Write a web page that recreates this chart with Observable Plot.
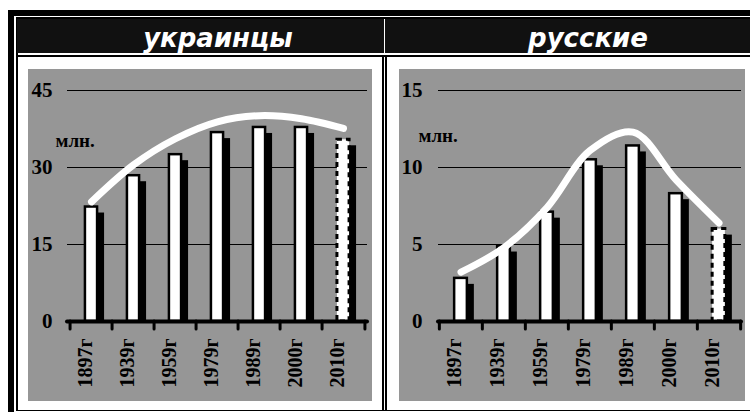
<!DOCTYPE html>
<html><head><meta charset="utf-8">
<script src="https://cdn.jsdelivr.net/npm/d3@7"></script>
<script src="https://cdn.jsdelivr.net/npm/@observablehq/plot@0.6"></script>
<style>
body{margin:0;background:#fff;width:750px;height:412px;overflow:hidden;position:relative}
.abs{position:absolute}
.title{color:#fff;font-family:"DejaVu Sans",sans-serif;font-weight:bold;font-style:italic;font-size:26px;text-align:center;top:21px;height:34px;line-height:34px;width:240px}
</style></head><body>
<div class="abs" style="left:8px;top:10px;width:800px;height:500px;background:#000"></div>
<div class="abs" style="left:14px;top:16px;width:800px;height:500px;background:#fff"></div>
<div class="abs" style="left:16px;top:17px;width:800px;height:394px;background:#000"></div>
<div class="abs" style="left:18px;top:19px;width:800px;height:391px;background:#fff"></div>
<div class="abs" style="left:17px;top:19px;width:367px;height:34px;background:#111"></div>
<div class="abs" style="left:385px;top:19px;width:400px;height:34px;background:#111"></div>
<div class="abs" style="left:17px;top:55px;width:800px;height:2px;background:#000"></div>
<div class="abs" style="left:382px;top:55px;width:2px;height:355px;background:#000"></div>
<div class="abs" style="left:385px;top:55px;width:2px;height:355px;background:#000"></div>
<div class="abs title" style="left:98px">украинцы</div>
<div class="abs title" style="left:468px">русские</div>
<div id="left" class="abs" style="left:28px;top:69px"></div>
<div id="right" class="abs" style="left:399px;top:69px"></div>
<script>
const years = ["1897г","1939г","1959г","1979г","1989г","2000г","2010г"];
const estimatedYear = "2010г";
const ukrValues = [22.3, 28.4, 32.5, 36.8, 37.8, 37.8, 35.4];
const ukrTrend  = [23.3, 30.5, 35.6, 38.9, 40.1, 39.5, 37.6];
const rusValues = [2.8, 4.9, 7.1, 10.5, 11.4, 8.3, 6.0];
const rusTrend  = [3.2, 4.8, 7.4, 11.1, 12.3, 9.2, 6.4];
const ukrTicks = [0, 15, 30, 45];
const rusTicks = [0, 5, 10, 15];
const unitLabel = "млн.";

function chart({values, trend, ticks, width, marginRight, tickPadding, unitDx, unitDy}) {
  const data = years.map((y, i) => ({year: y, value: values[i], trend: trend[i], est: y === estimatedYear}));
  const plotW = width - 39 - marginRight;
  const bw = plotW / years.length;
  const inset = (bw - 13) / 2;
  const serif = "'Liberation Serif', 'Times New Roman', serif";
  return Plot.plot({
    width, height: 332,
    marginLeft: 39, marginRight, marginTop: 21, marginBottom: 80,
    x: {type: "band", domain: years, padding: 0, axis: null},
    y: {domain: [0, d3.max(ticks)], axis: null},
    style: {background: "#969696", color: "#000", fontFamily: serif, fontWeight: "bold", fontSize: "20px"},
    marks: [
      Plot.gridY(ticks.filter(t => t > 0), {stroke: "#000", strokeOpacity: 1, strokeWidth: 1}),
      Plot.axisY(ticks, {tickSize: 0, tickPadding, fontSize: 21, fontWeight: "bold", fill: "#000"}),
      Plot.text([unitLabel], {frameAnchor: "top-left", textAnchor: "start", dx: unitDx, dy: unitDy, fontSize: 19, fontWeight: "bold", fill: "#000"}),
      Plot.barY(data, {x: "year", y: "value", fill: "#000", insetLeft: inset - 1, insetRight: inset - 1, insetTop: 6, dx: 6}),
      Plot.barY(data.filter(d => !d.est), {x: "year", y: "value", fill: "#fff", stroke: "#000", strokeWidth: 2.5, insetLeft: inset, insetRight: inset}),
      Plot.barY(data.filter(d => d.est), {x: "year", y: "value", fill: "#fff", stroke: "#000", strokeWidth: 3, strokeDasharray: "5,4", insetLeft: inset, insetRight: inset}),
      Plot.line(data, {x: "year", y: "trend", curve: "catmull-rom", stroke: "#fff", strokeWidth: 7, strokeLinecap: "round"}),
      Plot.ruleY([0], {stroke: "#000", strokeWidth: 4, strokeLinecap: "round"}),
      Plot.ruleX(years, {x: d => d, y1: 0, insetBottom: -8, dx: -bw / 2, stroke: "#000", strokeWidth: 3, strokeLinecap: "round"}),
      Plot.ruleX(years.slice(-1), {x: d => d, y1: 0, insetBottom: -8, dx: bw / 2, stroke: "#000", strokeWidth: 3, strokeLinecap: "round"}),
      Plot.text(years, {x: d => d, frameAnchor: "bottom", text: d => d, rotate: -90, textAnchor: "end", dy: 17, fontSize: 20, fontWeight: "bold", fill: "#000"})
    ]
  });
}

document.getElementById("left").append(chart({values: ukrValues, trend: ukrTrend, ticks: ukrTicks, width: 344, marginRight: 5, tickPadding: 15, unitDx: -12, unitDy: 43}));
document.getElementById("right").append(chart({values: rusValues, trend: rusTrend, ticks: rusTicks, width: 346, marginRight: 4, tickPadding: 16, unitDx: -20, unitDy: 38}));
</script>
</body></html>
